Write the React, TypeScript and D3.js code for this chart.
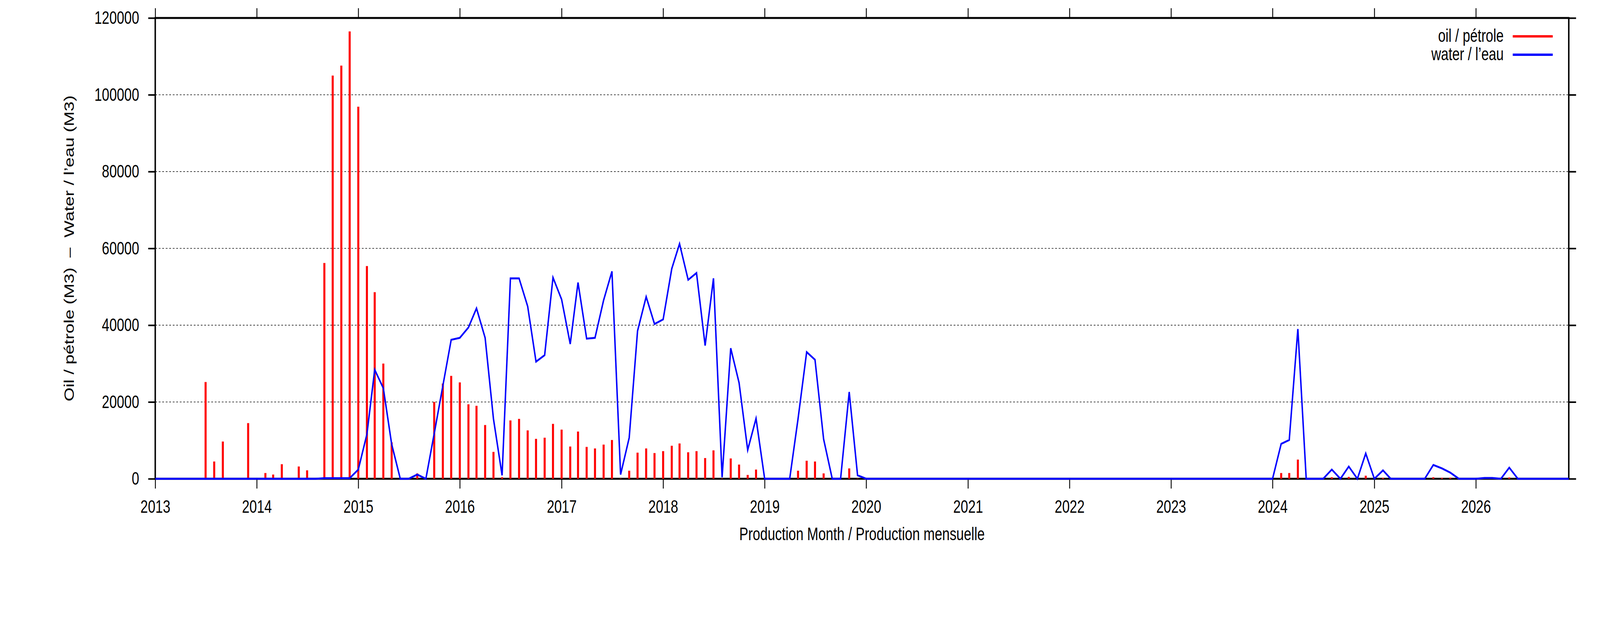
// App.tsx
import { useEffect, useRef } from 'react';
import * as d3 from 'd3';

// monthly production, Jan 2013 .. Dec 2026 (12 values per row)
const oil: number[] = [
  0, 0, 0, 0, 0, 0, 25200, 4500, 9700, 0, 0, 14500, // 2013
  0, 1500, 1100, 3800, 0, 3200, 2200, 0, 56200, 105000, 107600, 116500, // 2014
  96900, 55400, 48600, 30000, 9500, 0, 0, 1400, 0, 20000, 24800, 26800, // 2015
  25100, 19400, 19000, 14000, 7000, 400, 15200, 15600, 12600, 10400, 10700, 14300, // 2016
  12800, 8400, 12300, 8300, 7900, 8900, 10100, 100, 2100, 6800, 7900, 6700, // 2017
  7200, 8600, 9200, 6900, 7200, 5400, 7400, 100, 5300, 3700, 1000, 2400, // 2018
  0, 0, 0, 0, 2100, 4700, 4500, 1400, 0, 0, 2700, 100, // 2019
  0, 0, 0, 0, 0, 0, 0, 0, 0, 0, 0, 0, // 2020
  0, 0, 0, 0, 0, 0, 0, 0, 0, 0, 0, 0, // 2021
  0, 0, 0, 0, 0, 0, 0, 0, 0, 0, 0, 0, // 2022
  0, 0, 0, 0, 0, 0, 0, 0, 0, 0, 0, 0, // 2023
  0, 1500, 1500, 5000, 0, 0, 0, 400, 0, 500, 0, 800, // 2024
  0, 250, 0, 0, 0, 0, 0, 400, 250, 300, 0, 0, // 2025
  0, 0, 0, 0, 350, 0, 0, 0, 0, 0, 0, 0, // 2026
];

const water: number[] = [
  0, 0, 0, 0, 0, 0, 0, 0, 0, 0, 0, 0, // 2013
  0, 0, 0, 0, 0, 0, 0, 0, 150, 150, 150, 150, // 2014
  2400, 11600, 28400, 23600, 9000, 0, 0, 1100, 0, 11800, 24200, 36200, // 2015
  36700, 39400, 44400, 36700, 15600, 900, 52200, 52200, 44900, 30500, 32200, 52400, // 2016
  46700, 35100, 51100, 36500, 36700, 46500, 54000, 1100, 10700, 38500, 47400, 40300, // 2017
  41500, 54700, 61200, 51800, 53600, 34700, 52200, 400, 34000, 25000, 7500, 15700, // 2018
  0, 0, 0, 0, 15600, 33000, 31000, 10300, 0, 0, 22600, 900, // 2019
  0, 0, 0, 0, 0, 0, 0, 0, 0, 0, 0, 0, // 2020
  0, 0, 0, 0, 0, 0, 0, 0, 0, 0, 0, 0, // 2021
  0, 0, 0, 0, 0, 0, 0, 0, 0, 0, 0, 0, // 2022
  0, 0, 0, 0, 0, 0, 0, 0, 0, 0, 0, 0, // 2023
  0, 9100, 10100, 39000, 0, 0, 0, 2400, 0, 3200, 0, 6600, // 2024
  0, 2200, 0, 0, 0, 0, 0, 3600, 2700, 1600, 0, 0, // 2025
  0, 200, 200, 0, 2900, 0, 0, 0, 0, 0, 0, 0, // 2026
];

const yearTicks: number[] = [2013, 2014, 2015, 2016, 2017, 2018, 2019, 2020, 2021, 2022, 2023, 2024, 2025, 2026];
const yTicks: number[] = [0, 20000, 40000, 60000, 80000, 100000, 120000];

const legendLabels = ['oil / pétrole', 'water / l’eau'];
const yTitle = 'Oil / pétrole (M3)\u00a0 –\u00a0 Water / l’eau (M3)';
const xTitle = 'Production Month / Production mensuelle';

const W = 5483;
const H = 1594;
const FONT = '"Liberation Sans", Arial, Helvetica, sans-serif';

const App = () => {
  const ref = useRef<SVGSVGElement>(null);

  useEffect(() => {
    const margin = { top: 46, right: 107, bottom: 369, left: 532 };
    const left = margin.left;
    const right = W - margin.right;
    const top = margin.top;
    const bottom = H - margin.bottom;

    const svg = d3.select(ref.current);
    svg.selectAll('*').remove();

    const months = d3.timeMonth.range(new Date(2013, 0, 1), new Date(2027, 0, 1));
    const rows = months.map((d, i) => ({ date: d, oil: oil[i], water: water[i] }));

    const x = d3.scaleTime()
      .domain([new Date(2013, 0, 1), new Date(2026, 11, 1)])
      .range([left, right]);

    const y = d3.scaleLinear()
      .domain([0, 120000])
      .range([bottom, top]);

    svg.append('rect')
      .attr('width', W).attr('height', H)
      .attr('fill', '#fff');

    svg.append('defs').append('clipPath').attr('id', 'plot-clip')
      .append('rect')
      .attr('x', left).attr('y', top - 5)
      .attr('width', right - left).attr('height', bottom - top + 10);

    // grid
    svg.append('g')
      .selectAll('line')
      .data(yTicks.filter((t) => t > 0 && t < 120000))
      .enter()
      .append('line')
      .attr('x1', left).attr('x2', right)
      .attr('y1', (d) => y(d)).attr('y2', (d) => y(d))
      .attr('stroke', '#000')
      .attr('stroke-width', 1.6)
      .attr('stroke-dasharray', '6,6');

    // ticks on all four sides
    const years = yearTicks.map((yr) => new Date(yr, 0, 1));

    const xb = svg.append('g')
      .attr('transform', 'translate(0,' + bottom + ')')
      .call(d3.axisBottom(x).tickValues(years).tickSize(25).tickPadding(29).tickFormat((d) => d3.timeFormat('%Y')(d as Date)));
    const xt = svg.append('g')
      .attr('transform', 'translate(0,' + top + ')')
      .call(d3.axisTop(x).tickValues(years).tickSize(25).tickFormat(() => ''));
    const yl = svg.append('g')
      .attr('transform', 'translate(' + left + ',0)')
      .call(d3.axisLeft(y).tickValues(yTicks).tickSize(24).tickPadding(31).tickFormat((d) => String(d)));
    const yr = svg.append('g')
      .attr('transform', 'translate(' + right + ',0)')
      .call(d3.axisRight(y).tickValues(yTicks).tickSize(25).tickFormat(() => ''));

    [xb, xt, yl, yr].forEach((g) => {
      g.select('.domain').remove();
      g.selectAll('.tick line').attr('stroke', '#000').attr('stroke-width', 3);
      g.selectAll('.tick text')
        .attr('fill', '#000')
        .style('font-family', FONT)
        .style('font-size', '46px');
    });
    yl.selectAll('.tick line').attr('stroke-width', 4);
    yr.selectAll('.tick line').attr('stroke-width', 4);

    // border
    svg.append('rect')
      .attr('x', left).attr('y', top)
      .attr('width', right - left).attr('height', bottom - top)
      .attr('fill', 'none')
      .attr('stroke', '#000')
      .attr('stroke-width', 5);

    const plot = svg.append('g').attr('clip-path', 'url(#plot-clip)');

    // oil impulses
    plot.selectAll('.bar')
      .data(rows.filter((d) => d.oil > 0))
      .enter()
      .append('rect')
      .attr('class', 'bar')
      .attr('x', (d) => x(d.date) - 3.5)
      .attr('y', (d) => y(d.oil))
      .attr('width', 7)
      .attr('height', (d) => y(0) - y(d.oil))
      .attr('fill', '#ff0000');

    // water line
    const line = d3.line<{ date: Date; water: number }>()
      .x((d) => x(d.date))
      .y((d) => y(d.water));

    plot.append('path')
      .datum(rows.filter((d) => d.date <= new Date(2026, 11, 1)))
      .attr('d', line)
      .attr('fill', 'none')
      .attr('stroke', '#0000ff')
      .attr('stroke-width', 5);

    // axis titles
    svg.append('text')
      .attr('transform', 'translate(253,' + (top + bottom) / 2 + ') rotate(-90)')
      .attr('text-anchor', 'middle')
      .style('font-family', FONT)
      .style('font-size', '46px')
      .text(yTitle);

    svg.append('text')
      .attr('x', (left + right) / 2)
      .attr('y', 1382)
      .attr('text-anchor', 'middle')
      .style('font-family', FONT)
      .style('font-size', '46px')
      .text(xTitle);

    // legend
    const legend = svg.append('g');
    const colors = ['#ff0000', '#0000ff'];
    legendLabels.forEach((label, i) => {
      const ly = 93 + i * 47;
      legend.append('text')
        .attr('x', 5153)
        .attr('y', ly + 14)
        .attr('text-anchor', 'end')
        .style('font-family', FONT)
        .style('font-size', '46px')
        .text(label);
      legend.append('line')
        .attr('x1', 5184).attr('x2', 5321)
        .attr('y1', ly).attr('y2', ly)
        .attr('stroke', colors[i])
        .attr('stroke-width', 6);
    });
  }, []);

  // fill the whole window so the chart is never clipped
  return (
    <svg
      ref={ref}
      viewBox={'0 0 ' + W + ' ' + H}
      preserveAspectRatio="none"
      style={{ position: 'fixed', left: 0, top: 0, width: '100%', height: '100%', background: '#fff' }}
    ></svg>
  );
};

export default App;
